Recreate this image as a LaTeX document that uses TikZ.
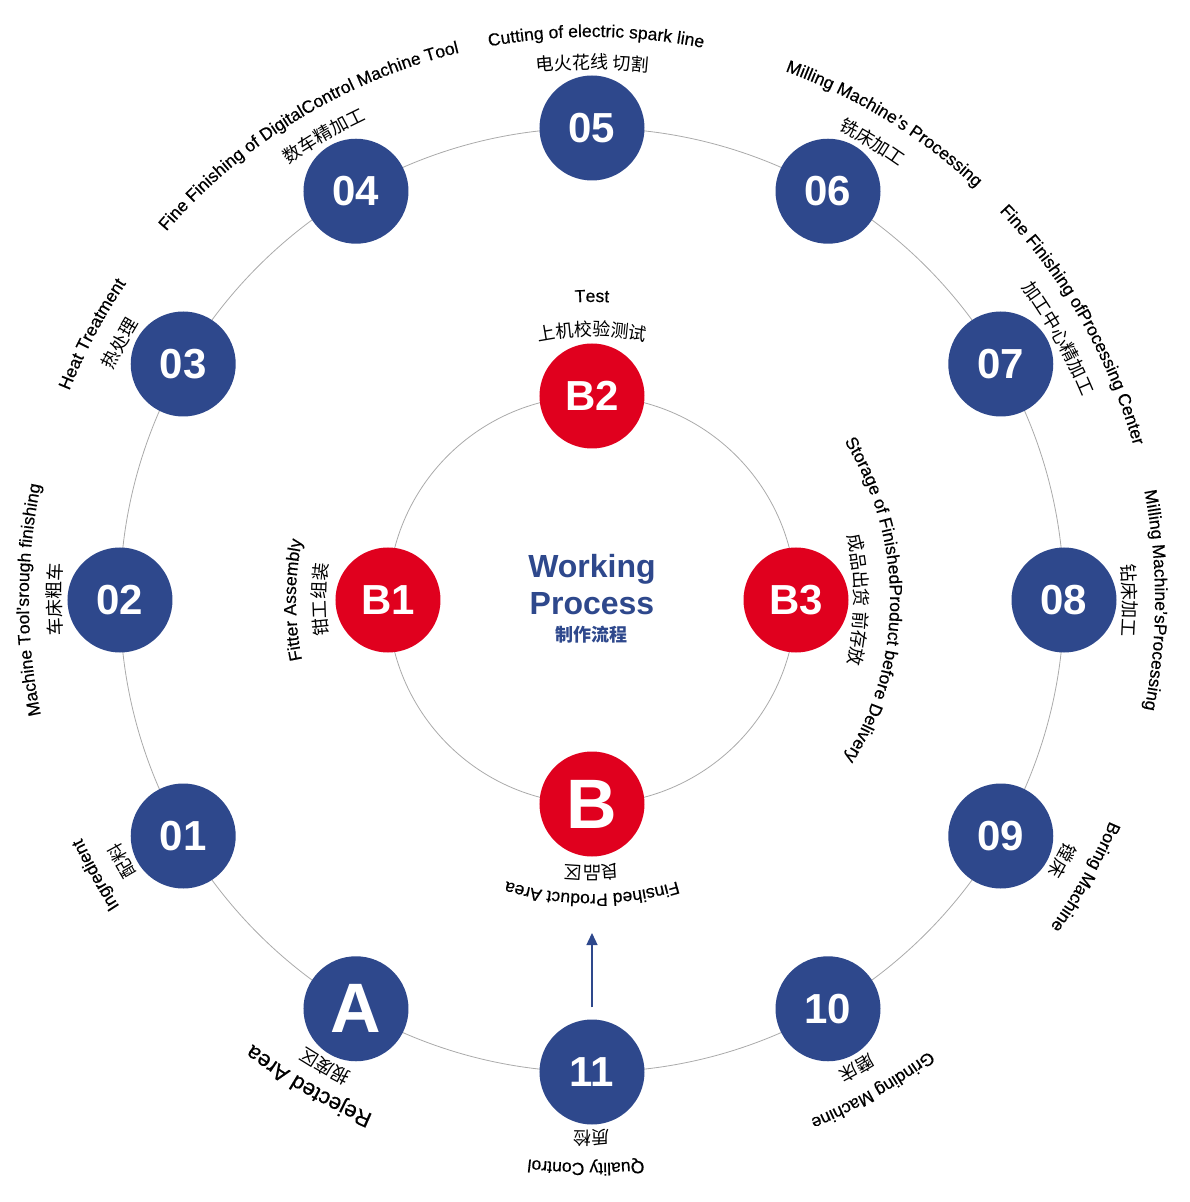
\documentclass[tikz,border=0pt]{standalone}
\usepackage{fontspec}
\setmainfont{Liberation Sans}
\newfontfamily\lblfam{Liberation Sans}[FakeBold=0.4]
\newfontfamily\cjk{Noto Sans CJK SC}
\usetikzlibrary{arrows.meta, decorations.text}
\definecolor{navy}{RGB}{46, 72, 140}
\definecolor{mred}{RGB}{224, 0, 30}
\definecolor{ringgray}{RGB}{170, 170, 170}
\newcommand\enfont{\lblfam\fontsize{17.5}{20}\selectfont}
\newcommand\bigenfont{\lblfam\fontsize{22}{24}\selectfont}
\newcommand\cnfont{\cjk\fontsize{18}{20}\selectfont}
% text bent along a clockwise arc: radius, mid angle, font, text
\newcommand\arclabel[4]{%
  \path[decorate, decoration={text along path, text align=center, text={|#3|#4}}]
    ({#2+60}:#1) arc[start angle={#2+60}, end angle={#2-60}, radius=#1];}

\begin{document}
\begin{tikzpicture}[x=1pt, y=1pt,
  ring/.style={draw=ringgray, line width=0.8pt},
  stepnode/.style={circle, fill=navy, text=white, minimum size=105pt, inner sep=0pt, font=\fontsize{42}{42}\selectfont\bfseries},
  areanode/.style={stepnode, font=\fontsize{70}{70}\selectfont\bfseries},
  testnode/.style={stepnode, fill=mred},
  flow/.style={draw=navy, line width=1.4pt, shorten <=12pt, -{Triangle[width=11pt, length=12pt]}}
]
  \useasboundingbox (-592,-602) rectangle (598,600);

  % the two rings
  \draw[ring] (0,0) circle (472);
  \draw[ring] (0,0) circle (204);

  % outer steps
  \foreach \ang/\name/\num in {-150/s01/01, 180/s02/02, 150/s03/03, 120/s04/04,
      90/s05/05, 60/s06/06, 30/s07/07, 0/s08/08, -30/s09/09, -60/s10/10, -90/s11/11}
    \node[stepnode] (\name) at (\ang:472) {\num};
  \node[areanode] (sA) at (-120:472) {A};

  % inner steps
  \node[testnode, font=\fontsize{70}{70}\selectfont\bfseries] (b0) at (-90:204) {B};
  \node[testnode] (b1) at (180:204) {B1};
  \node[testnode] (b2) at (90:204) {B2};
  \node[testnode] (b3) at (0:204) {B3};

  % centre title
  \node[anchor=base, text=navy, font=\fontsize{32}{32}\selectfont\bfseries] (wordtop) at (0,23) {Working};
  \node[anchor=base, text=navy, font=\fontsize{32}{32}\selectfont\bfseries] (wordbot) at (0,-14) {Process};
  \node[text=navy, font=\cjk\fontsize{18}{18}\selectfont\bfseries] (titlecn) at (0,-35) {制作流程};

  % from quality control into the finished product area
  \coordinate (qcend) at (0,-333);
  \draw[flow] (s11) -- (qcend);

  % outer labels
  \foreach \lc/\le/\cn/\en in {
      -151/-151/配料/Ingredient,
      180/180/车床粗车/Machine Tool’srough finishing,
      151.5/152/热处理/Heat Treatment,
      120/121.4/数车精加工/Fine Finishing of DigitalControl Machine Tool,
      90/89.6/电火花线 切割/Cutting of electric spark line,
      58.5/58.5/铣床加工/Milling Machine’s Processing,
      29.3/29.8/加工中心精加工/Fine Finishing ofProcessing Center,
      0/0/钻床加工/Milling Machine’sProcessing,
      -29/-29.3/镗床/Boring Machine,
      -60.5/-60.2/磨床/Grinding Machine,
      -90/-90.6/质检/Quality Control,
      -119.8/-120.2/报废区/}{
    \arclabel{531}{\lc}{\cnfont}{\cn}
    \arclabel{563}{\le}{\enfont}{\en}
  }
  \arclabel{559}{-120.2}{\bigenfont}{Rejected Area}

  % inner labels
  \foreach \la/\rc/\re/\cn/\en in {
      90/264/298/上机校验测试/Test,
      0/263/298/成品出货 前存放/Storage of FinishedProduct before Delivery,
      -90/266/294/良品区/Finsihed Product Area,
      180/266/296/钳工组装/Fitter Assembly}{
    \arclabel{\rc}{\la}{\cnfont}{\cn}
    \arclabel{\re}{\la}{\enfont}{\en}
  }
\end{tikzpicture}
\end{document}
